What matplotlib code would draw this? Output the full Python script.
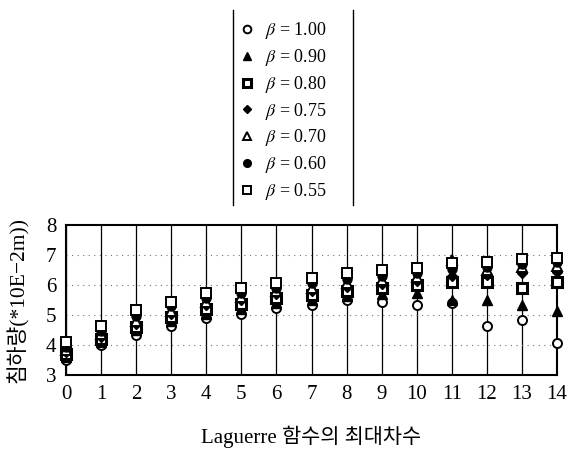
import numpy as np
import matplotlib
matplotlib.use("Agg")
import matplotlib.pyplot as plt
from matplotlib.lines import Line2D

plt.rcParams['font.family'] = ['Liberation Serif', 'Noto Sans CJK KR']
plt.rcParams['mathtext.fontset'] = 'stix'

# Laguerre max order
orders = list(range(15))

# deflection (*10E-2 m)
beta_100 = [3.50, 4.00, 4.35, 4.65, 4.90, 5.05, 5.25, 5.35, 5.50, 5.45, 5.35, 5.42, 4.65, 4.85, 4.07]
beta_090 = [3.60, 4.10, 4.50, 4.80, 5.05, 5.20, 5.40, 5.50, 5.65, 5.70, 5.75, 5.50, 5.50, 5.35, 5.15]
beta_080 = [3.70, 4.20, 4.62, 4.95, 5.22, 5.38, 5.57, 5.68, 5.82, 5.90, 6.00, 6.10, 6.11, 5.90, 6.10]
beta_075 = [3.78, 4.28, 4.72, 5.05, 5.35, 5.50, 5.70, 5.80, 5.95, 6.05, 6.15, 6.30, 6.35, 6.40, 6.45]
beta_070 = [3.85, 4.36, 4.82, 5.15, 5.45, 5.62, 5.80, 5.92, 6.08, 6.18, 6.28, 6.85, 6.50, 6.60, 6.65]
beta_060 = [3.95, 4.48, 4.98, 5.30, 5.58, 5.75, 5.92, 6.08, 6.22, 6.32, 6.42, 6.55, 6.62, 6.72, 6.78]
beta_055 = [4.10, 4.65, 5.18, 5.45, 5.75, 5.90, 6.07, 6.25, 6.40, 6.50, 6.58, 6.73, 6.78, 6.86, 6.90]

labels = ['$\\beta$ = 1.00', '$\\beta$ = 0.90', '$\\beta$ = 0.80', '$\\beta$ = 0.75',
          '$\\beta$ = 0.70', '$\\beta$ = 0.60', '$\\beta$ = 0.55']

fig = plt.figure(figsize=(5.69, 4.53), dpi=100)
ax = fig.add_axes([0.116, 0.172, 0.863, 0.331])

# vertical solid lines at each order, dotted horizontal lines
for x in orders:
    ax.axvline(x, color='black', lw=0.9, zorder=1)
for y in [4, 5, 6, 7]:
    ax.axhline(y, color='0.45', lw=0.8, ls=(0, (1, 4)), zorder=1)

ms = 6.5
kw = dict(ls='none', clip_on=False)
h1, = ax.plot(orders, beta_100, marker='o', ms=ms, mfc='white', mec='black', mew=1.4, zorder=3, **kw)
h2, = ax.plot(orders, beta_090, marker='^', ms=ms, mfc='black', mec='black', zorder=3, **kw)
h3, = ax.plot(orders, beta_080, marker='s', ms=ms, mfc='white', mec='black', mew=2.2, zorder=3, **kw)
h4, = ax.plot(orders, beta_075, marker='D', ms=ms - 1.5, mfc='black', mec='black', zorder=3, **kw)
h5, = ax.plot(orders, beta_070, marker='^', ms=ms, mfc='white', mec='black', mew=1.4, zorder=3, **kw)
h6, = ax.plot(orders, beta_060, marker='o', ms=ms, mfc='black', mec='black', zorder=3, **kw)
h7, = ax.plot(orders, beta_055, marker='s', ms=ms, mfc='white', mec='black', mew=1.4, zorder=4, **kw)

ax.set_xlim(0, 14)
ax.set_ylim(3, 8)
ax.set_xticks(orders)
ax.set_yticks([3, 4, 5, 6, 7, 8])
ax.tick_params(length=0, labelsize=15, pad=7)
for s in ax.spines.values():
    s.set_linewidth(1.5)

ax.set_xlabel('Laguerre 함수의 최대차수', fontsize=15, labelpad=16)
ax.set_ylabel('침하량(*10E−2m))', fontsize=15.5, labelpad=12)

fig.legend([h1, h2, h3, h4, h5, h6, h7], labels, loc='upper left',
           bbox_to_anchor=(0.402, 0.975), frameon=False, fontsize=13,
           labelspacing=0.32, handletextpad=0.5, handlelength=1.0,
           borderpad=0, markerscale=0.85)

# legend side bars
fig.add_artist(Line2D([0.409, 0.409], [0.547, 0.978], color='black', lw=1.0))
fig.add_artist(Line2D([0.620, 0.620], [0.547, 0.978], color='black', lw=1.0))

fig.savefig('out.png', dpi=100)
